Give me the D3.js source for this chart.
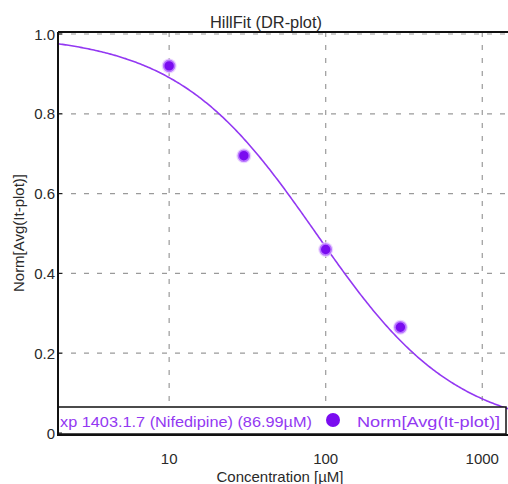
<!DOCTYPE html>
<html>
<head>
<meta charset="utf-8">
<script src="https://cdn.jsdelivr.net/npm/d3@7"></script>
<style>
  html, body { margin: 0; padding: 0; background: #fff; }
  svg { display: block; font-family: "Liberation Sans", Arial, sans-serif; }
</style>
</head>
<body>
<script>
// Dose-response measurements (concentration in µM, normalised response)
const concentrations = [10, 30, 100, 300];
const responses = [0.92, 0.695, 0.46, 0.265];

// Hill fit parameters
const hillTop = 1.0;
const hillBottom = 0.0;
const hillIC50 = 86.99;
const hillSlope = 0.97;

const yTicks = [0, 0.2, 0.4, 0.6, 0.8, 1.0];
const yTickLabels = ["0", "0.2", "0.4", "0.6", "0.8", "1.0"];
const xTicks = [10, 100, 1000];
const xTickLabels = ["10", "100", "1000"];

// legend entries (the fit entry is cut off at the legend's left edge)
const fitLabel = "xp 1403.1.7 (Nifedipine) (86.99µM)";
const pointLabel = "Norm[Avg(It-plot)]";

const W = 508, H = 484;
const plotLeft = 58, plotTop = 32, plotRight = 508, plotBottom = 435;
const purple = "#9338f2";
const markerFill = "#7a0cf0";
const textColor = "#2a2a2a";

const svg = d3.select("body").append("svg").attr("width", W).attr("height", H);

const x = d3.scaleLog().domain([1.95, 1460]).range([plotLeft, plotRight]);
const y = d3.scaleLinear().domain([0, 1]).range([433, 34]);

svg.append("defs").append("clipPath").attr("id", "plotClip")
  .append("rect").attr("x", plotLeft).attr("y", plotTop)
  .attr("width", plotRight - plotLeft).attr("height", plotBottom - plotTop);

// grid
const grid = svg.append("g").attr("stroke", "#9a9a9a").attr("stroke-width", 1.2)
  .attr("stroke-dasharray", "5,8");
grid.selectAll(".gy").data(yTicks.filter(d => d > 0)).join("line")
  .attr("x1", plotLeft).attr("x2", plotRight).attr("y1", d => y(d)).attr("y2", d => y(d));
grid.selectAll(".gx").data(xTicks).join("line")
  .attr("x1", d => x(d)).attr("x2", d => x(d)).attr("y1", plotTop).attr("y2", plotBottom);

// fitted Hill curve
const hill = c => hillBottom + (hillTop - hillBottom) / (1 + Math.pow(c / hillIC50, hillSlope));
const [la, lb] = x.domain().map(Math.log10);
const xs = d3.range(0, 301).map(i => Math.pow(10, la + (lb - la) * i / 300));
svg.append("path")
  .attr("clip-path", "url(#plotClip)")
  .datum(xs)
  .attr("fill", "none").attr("stroke", purple).attr("stroke-width", 1.6)
  .attr("d", d3.line().x(d => x(d)).y(d => y(hill(d))));

// data points
const pts = svg.append("g");
const data = concentrations.map((c, i) => ({ c, v: responses[i] }));
pts.selectAll("circle.halo").data(data).join("circle").attr("class", "halo")
  .attr("cx", d => x(d.c)).attr("cy", d => y(d.v)).attr("r", 7.5)
  .attr("fill", "#e6ccff").attr("opacity", 0.8);
pts.selectAll("circle.dot").data(data).join("circle").attr("class", "dot")
  .attr("cx", d => x(d.c)).attr("cy", d => y(d.v)).attr("r", 5.5)
  .attr("fill", markerFill).attr("stroke", "#b874ff").attr("stroke-width", 1.6);

// legend
const lg = svg.append("g");
lg.append("rect").attr("x", plotLeft).attr("y", 407).attr("width", 448).attr("height", 27)
  .attr("fill", "#fff").attr("stroke", "#111").attr("stroke-width", 1.5);
lg.append("text")
  .attr("x", 60).attr("y", 426.5)
  .attr("textLength", 252).attr("lengthAdjust", "spacingAndGlyphs")
  .attr("font-size", 15).attr("fill", purple).text(fitLabel);
lg.append("circle").attr("cx", 333).attr("cy", 420).attr("r", 7).attr("fill", markerFill);
lg.append("text").attr("x", 357).attr("y", 426.5)
  .attr("textLength", 143).attr("lengthAdjust", "spacingAndGlyphs")
  .attr("font-size", 15).attr("fill", purple).text(pointLabel);

// frame
const frame = svg.append("g").attr("stroke", "#111").attr("stroke-width", 2);
frame.append("line").attr("x1", plotLeft).attr("x2", plotLeft).attr("y1", plotTop).attr("y2", plotBottom + 1);
frame.append("line").attr("x1", plotLeft).attr("x2", plotRight).attr("y1", plotTop).attr("y2", plotTop);
frame.append("line").attr("x1", plotLeft).attr("x2", plotRight).attr("y1", plotBottom).attr("y2", plotBottom);

// y axis ticks and labels
const ya = svg.append("g");
ya.selectAll("line").data(yTicks).join("line")
  .attr("x1", plotLeft).attr("x2", plotLeft + 4).attr("y1", d => y(d)).attr("y2", d => y(d))
  .attr("stroke", "#111").attr("stroke-width", 1);
ya.selectAll("text").data(yTicks).join("text")
  .attr("x", plotLeft - 3).attr("y", d => y(d) + 5.5).attr("text-anchor", "end")
  .attr("font-size", 15).attr("fill", textColor)
  .text((d, i) => yTickLabels[i]);

// x axis labels
svg.append("g").selectAll("text").data(xTicks).join("text")
  .attr("x", d => x(d)).attr("y", 464).attr("text-anchor", "middle")
  .attr("font-size", 15).attr("fill", textColor)
  .text((d, i) => xTickLabels[i]);

// titles
svg.append("text").attr("x", 210).attr("y", 28)
  .attr("textLength", 112).attr("lengthAdjust", "spacingAndGlyphs")
  .attr("font-size", 16).attr("fill", textColor).text("HillFit (DR-plot)");
svg.append("text").attr("x", 280).attr("y", 482).attr("text-anchor", "middle")
  .attr("font-size", 15).attr("fill", textColor).text("Concentration [µM]");
svg.append("text").attr("transform", "translate(24,233) rotate(-90)")
  .attr("text-anchor", "middle").attr("font-size", 15).attr("fill", textColor)
  .text("Norm[Avg(It-plot)]");
</script>
</body>
</html>
